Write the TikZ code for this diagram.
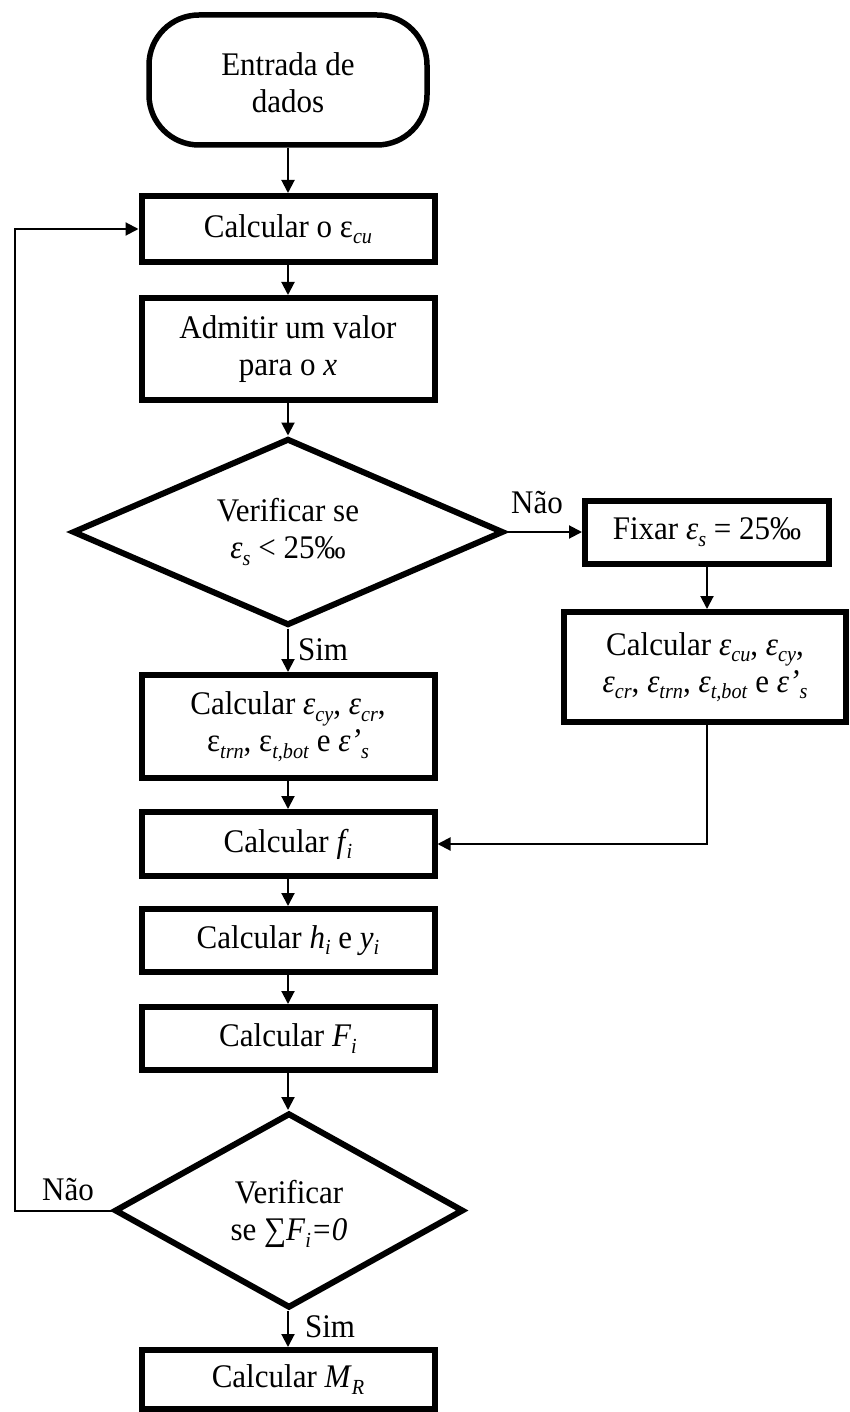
\documentclass[tikz,border=0pt]{standalone}
\usepackage{fontspec}
\setmainfont{Liberation Serif}[FakeStretch=0.94]
\usetikzlibrary{arrows.meta,shapes.geometric}

% italic subscript, Word-style
\newcommand\sbs[1]{\raisebox{-0.2em}{\fontsize{21.5}{21.5}\selectfont\textit{#1}}}
\newcommand\ieps{\textit{ε}}

\begin{document}
\begin{tikzpicture}[x={(1pt,0)}, y={(0,-1pt)},
  every node/.style={font=\fontsize{33}{37}\selectfont, align=center, inner sep=0pt},
  stepbox/.style={draw, line width=6pt, rectangle, minimum width=293pt},
  term/.style={draw, line width=5.5pt, rectangle, rounded corners=50pt, minimum width=278pt, minimum height=130pt},
  decision/.style={draw, line width=6pt, diamond},
  conn/.style={line width=2pt},
  arr/.style={conn, -{Triangle[length=13pt,width=13pt]}},
  lbl/.style={font=\fontsize{33}{37}\selectfont}]

\useasboundingbox (0,0) rectangle (849,1412);

% main column
\node[term] (start) at (288,80)
  {\raisebox{-7pt}[\height][\depth]{\begin{tabular}{@{}c@{}}Entrada de\\[0pt]dados\end{tabular}}};
\node[stepbox, minimum height=66pt] (b1) at (288,229) {Calcular o ε\sbs{cu}};
\node[stepbox, minimum height=102pt] (b2) at (288,349) {Admitir um valor\\para o \textit{x}};
\node[decision, aspect=2.3, minimum width=431pt, minimum height=187pt] (d1) at (288,532)
  {Verificar se\\\ieps\sbs{s} < 25‰};
\node[stepbox, minimum height=103pt] (cl) at (288,726.5)
  {Calcular \ieps\sbs{cy}, \ieps\sbs{cr},\\ε\sbs{trn}, ε\sbs{t,bot} e \textit{ε’}\sbs{s}};
\node[stepbox, minimum height=64pt] (fi) at (288,844) {Calcular \textit{f}\kern-2pt\sbs{i}};
\node[stepbox, minimum height=63pt] (hi) at (288,940.5) {Calcular \textit{h}\sbs{i} e \textit{y}\sbs{i}};
\node[stepbox, minimum height=63pt] (Fi) at (288,1038.5) {Calcular \textit{F}\sbs{i}};
\node[decision, aspect=1.79, minimum width=349pt, minimum height=195pt] (d2) at (289,1210.5)
  {\raisebox{-4pt}[\height][\depth]{\begin{tabular}{@{}c@{}}Verificar\\[0pt]se ∑\textit{F}\sbs{i}\textit{=0}\end{tabular}}};
\node[stepbox, minimum height=59pt] (MR) at (288,1379.5) {Calcular \textit{M}\sbs{R}};

% right branch
\node[stepbox, minimum width=244pt, minimum height=63pt] (fx) at (707,532)
  {Fixar \ieps\sbs{s} = 25‰};
\node[stepbox, minimum width=282pt, minimum height=110pt] (cr) at (705,667)
  {Calcular \ieps\sbs{cu}, \ieps\sbs{cy},\\\ieps\sbs{cr}, \ieps\sbs{trn}, \ieps\sbs{t,bot} e \textit{ε’}\sbs{s}};

\coordinate (lp) at (15,0);

% connectors
\draw[arr] (start) -- (b1);
\draw[arr] (b1) -- (b2);
\draw[arr] (b2) -- (d1);
\draw[arr] (d1) -- (cl);
\draw[arr] (cl) -- (fi);
\draw[arr] (fi) -- (hi);
\draw[arr] (hi) -- (Fi);
\draw[arr] (Fi.south) -- (Fi.south |- d2.north);
\draw[arr] (d2.south -| MR.north) -- (MR.north);
\draw[arr] (d1.east) -- (fx.west);
\draw[arr] (fx) -- (fx |- cr.north);
\draw[arr] (cr.south -| fx.south) |- (fi.east);
\draw[arr] (d2.west) -- (d2.west -| lp) |- (b1.west);

% branch labels
\node[lbl] (n1) at (537,503) {Não};
\node[lbl] (s1) at (323,650) {Sim};
\node[lbl] (n2) at (68,1190) {Não};
\node[lbl] (s2) at (330,1327) {Sim};
\end{tikzpicture}
\end{document}
